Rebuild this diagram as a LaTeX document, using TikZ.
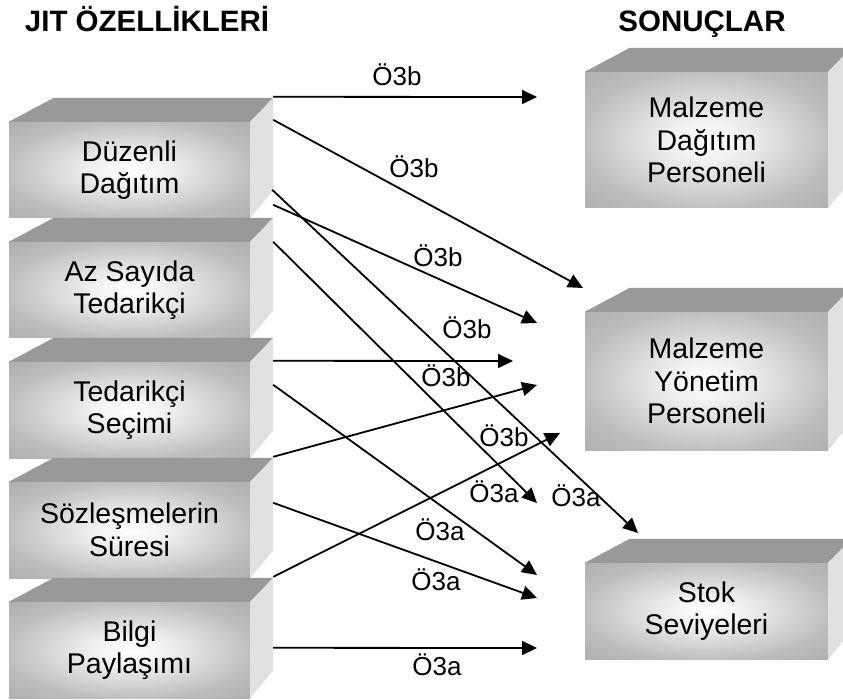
\documentclass[tikz,border=0pt]{standalone}
\usepackage{fontspec}
\setmainfont{Liberation Sans}
\usetikzlibrary{calc,arrows.meta}

\definecolor{facetop}{RGB}{153,153,153}
\definecolor{faceside}{RGB}{225,225,225}

% light centre fading to grey at the rim of each front face
\pgfdeclareradialshading{glow}{\pgfpoint{0bp}{0bp}}{%
  color(0bp)=(white); color(7bp)=(black!5); color(26bp)=(black!26);
  color(50bp)=(black!39)}

\begin{document}
\begin{tikzpicture}[x=1pt,y=-1pt,
  front/.style={shade,shading=glow,inner sep=0pt,align=center,
    font=\fontsize{28.5}{32.5}\selectfont},
  leftbox/.style={front,minimum width=241pt,minimum height=96pt},
  rightbox/.style={front,minimum width=243pt},
  head/.style={anchor=base,font=\fontsize{29.5}{34}\selectfont\bfseries},
  lbl/.style={font=\fontsize{26}{30}\selectfont,inner sep=0pt},
  link/.style={line width=1.8pt,-{Triangle[length=15pt,width=14pt]}}]
  \useasboundingbox (0,0) rectangle (843,700);
  \clip (0,0) rectangle (843,700);

  \node[head] (jit) at (147,32) {JIT ÖZELLİKLERİ};
  \node[head] (sonuc) at (702,32) {SONUÇLAR};

  % left column
  \node[leftbox] (duzenli) at (129.5,170) {Düzenli\\Dağıtım};
  \node[leftbox] (azsayida) at (129.5,290) {Az Sayıda\\Tedarikçi};
  \node[leftbox] (tedsec) at (129.5,410) {Tedarikçi\\Seçimi};
  \node[leftbox] (sozlesme) at (129.5,530) {Sözleşmelerin\\Süresi};
  \node[leftbox] (bilgi) at (129.5,650) {Bilgi\\Paylaşımı};

  % right column
  \node[rightbox,minimum height=136pt] (maldag) at (706.5,140) {Malzeme\\Dağıtım\\Personeli};
  \node[rightbox,minimum height=138pt] (malyon) at (706.5,381) {Malzeme\\Yönetim\\Personeli};
  \node[rightbox,minimum height=96pt] (stok) at (706.5,611) {Stok\\Seviyeleri};

  % top and side faces
  \foreach \b in {duzenli,azsayida,tedsec,sozlesme,bilgi,maldag,malyon,stok} {
    \fill[facetop] (\b.north west) -- ++(45,-24) -- ($(\b.north east)+(23,-24)$) -- (\b.north east) -- cycle;
    \fill[faceside] (\b.north east) -- ++(23,-24) -- ($(\b.south east)+(23,-28)$) -- (\b.south east) -- cycle;
  }

  \coordinate (toMD) at (537,97);
  \coordinate (toMY1) at (583,288);
  \coordinate (toMY2) at (537,323);
  \coordinate (toMY3) at (513,361);
  \coordinate (toMY4) at (537,385);
  \coordinate (toMY5) at (560,433);
  \coordinate (toST1) at (638,533);
  \coordinate (toST2) at (537,503);
  \coordinate (toST3) at (537,575);
  \coordinate (toST4) at (537,598);
  \coordinate (toST5) at (537,648);

  \draw[link] ($(duzenli.north east)+(23,-25)$) -- (toMD);
  \draw[link] ($(duzenli.north east)+(23,-2)$) -- (toMY1);
  \draw[link] ($(duzenli.north east)+(22,68)$) -- (toST1);
  \draw[link] ($(duzenli.north east)+(23,83)$) -- (toMY2);
  \draw[link] ($(azsayida.north east)+(23,0)$) -- (toST2);
  \draw[link] ($(tedsec.north east)+(23,-1)$) -- (toMY3);
  \draw[link] ($(tedsec.north east)+(23,23)$) -- (toST3);
  \draw[link] ($(sozlesme.north east)+(23,-25)$) -- (toMY4);
  \draw[link] ($(sozlesme.north east)+(23,21)$) -- (toST4);
  \draw[link] ($(bilgi.north east)+(23,-25)$) -- (toMY5);
  \draw[link] ($(bilgi.north east)+(23,46)$) -- (toST5);

  % hypothesis labels
  \node[lbl] (h1) at (397,75) {Ö3b};
  \node[lbl] (h2) at (414,167) {Ö3b};
  \node[lbl] (h3) at (438,256) {Ö3b};
  \node[lbl] (h4) at (467,328) {Ö3b};
  \node[lbl] (h5) at (446,376) {Ö3b};
  \node[lbl] (h6) at (504,436) {Ö3b};
  \node[lbl] (h7) at (494,492) {Ö3a};
  \node[lbl] (h8) at (576,496) {Ö3a};
  \node[lbl] (h9) at (440,530) {Ö3a};
  \node[lbl] (h10) at (436,580) {Ö3a};
  \node[lbl] (h11) at (437,665) {Ö3a};
\end{tikzpicture}
\end{document}
